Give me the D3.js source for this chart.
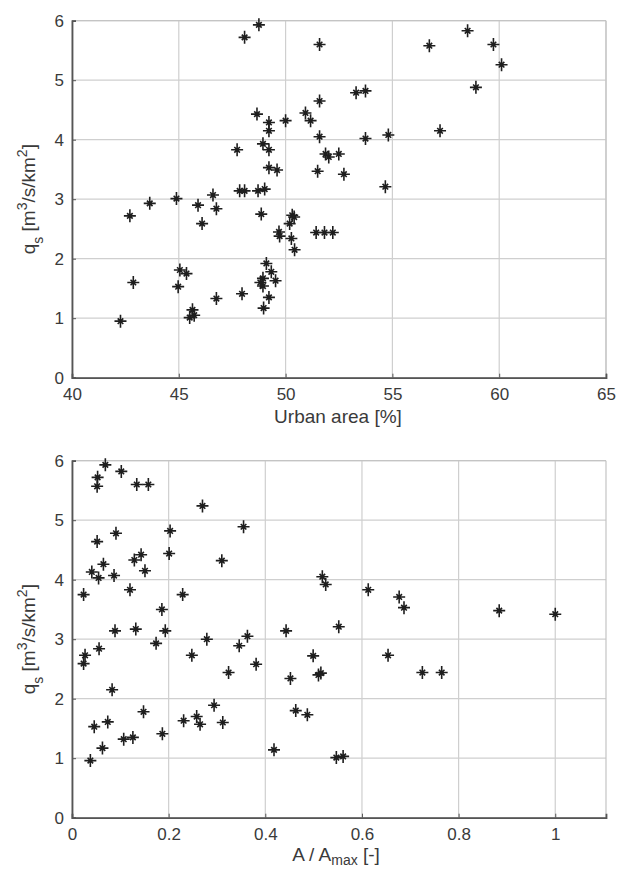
<!DOCTYPE html>
<meta charset="utf-8">
<script src="https://d3js.org/d3.v7.min.js"></script>
<style>
  body { margin: 0; background: #fff; }
  text { font-family: "Liberation Sans", Arial, sans-serif; fill: #3a3a3a; }
</style>
<div id="chart"></div>
<script>

// urban area [%] vs qs  (top panel)
var urbanX = [42.27, 42.71, 42.87, 43.64, 44.89, 44.97, 45.05, 45.36, 45.51, 45.64, 45.72, 45.9,
  46.09, 46.6, 46.76, 46.76, 47.73, 47.85, 47.96, 48.08, 48.08, 48.66, 48.71, 48.75,
  48.82, 48.86, 48.94, 48.94, 48.94, 48.97, 49.02, 49.1, 49.22, 49.22, 49.22, 49.22,
  49.22, 49.33, 49.53, 49.6, 49.69, 49.72, 50.0, 50.19, 50.27, 50.31, 50.4, 50.42,
  50.93, 51.17, 51.43, 51.5, 51.59, 51.59, 51.59, 51.82, 51.87, 52.02, 52.21, 52.49,
  52.73, 53.3, 53.74, 53.74, 54.67, 54.81, 56.73, 57.23, 58.52, 58.91, 59.73, 60.11];
var urbanQ = [0.95, 2.72, 1.60, 2.93, 3.01, 1.53, 1.81, 1.75, 1.01, 1.14, 1.05, 2.90,
  2.59, 3.07, 2.84, 1.33, 3.83, 3.14, 1.41, 5.72, 3.14, 4.43, 3.14, 5.93,
  1.60, 2.75, 3.93, 1.67, 1.54, 1.17, 3.17, 1.92, 4.29, 4.15, 3.83, 3.53,
  1.35, 1.78, 1.63, 3.49, 2.45, 2.38, 4.32, 2.59, 2.34, 2.73, 2.70, 2.15,
  4.45, 4.32, 2.44, 3.47, 5.60, 4.65, 4.05, 2.44, 3.76, 3.71, 2.44, 3.76,
  3.42, 4.79, 4.82, 4.02, 3.21, 4.08, 5.58, 4.15, 5.83, 4.88, 5.60, 5.26];

// A / Amax vs qs  (bottom panel)
var areaX = [0.069, 0.102, 0.053, 0.052, 0.134, 0.158, 0.270, 0.355, 0.203, 0.091, 0.052, 0.143,
  0.129, 0.201, 0.310, 0.065, 0.041, 0.055, 0.087, 0.151, 0.518, 0.525, 0.024, 0.120,
  0.229, 0.186, 0.613, 0.677, 0.687, 0.884, 1.0, 0.552, 0.089, 0.132, 0.193, 0.279,
  0.363, 0.443, 0.174, 0.248, 0.346, 0.381, 0.324, 0.027, 0.024, 0.056, 0.083, 0.046,
  0.074, 0.148, 0.063, 0.038, 0.107, 0.126, 0.187, 0.231, 0.258, 0.265, 0.294, 0.312,
  0.418, 0.452, 0.463, 0.487, 0.499, 0.510, 0.515, 0.547, 0.561, 0.654, 0.725, 0.765];
var areaQ = [5.93, 5.82, 5.72, 5.57, 5.60, 5.60, 5.24, 4.89, 4.82, 4.78, 4.64, 4.42,
  4.33, 4.44, 4.32, 4.26, 4.13, 4.03, 4.07, 4.15, 4.05, 3.92, 3.75, 3.83,
  3.75, 3.50, 3.83, 3.71, 3.53, 3.48, 3.42, 3.21, 3.14, 3.17, 3.14, 3.00,
  3.05, 3.14, 2.93, 2.73, 2.89, 2.58, 2.44, 2.73, 2.59, 2.84, 2.15, 1.53,
  1.61, 1.78, 1.17, 0.96, 1.32, 1.35, 1.41, 1.63, 1.70, 1.57, 1.89, 1.60,
  1.14, 2.34, 1.80, 1.73, 2.72, 2.40, 2.43, 1.01, 1.03, 2.73, 2.44, 2.44];

var urbanTicks = [40, 45, 50, 55, 60, 65];
var areaTicks = [0, 0.2, 0.4, 0.6, 0.8, 1];
var qTicks = [0, 1, 2, 3, 4, 5, 6];

var svg = d3.select("#chart").append("svg")
    .attr("width", 617).attr("height", 874);

svg.append("rect").attr("width", 617).attr("height", 874).attr("fill", "white");

// asterisk marker like matlab '*' (blurry, so the diagonals look short)
var star = "M-6,0L6,0M0,-6.5L0,6.5M-2.8,-2.8L2.8,2.8M-2.8,2.8L2.8,-2.8";

function panel(top, xs, ys, xDomain, xTicks, fmt) {
    var left = 72, right = 606, bottom = top + 357;

    var x = d3.scaleLinear().domain(xDomain).range([left, right]);
    var y = d3.scaleLinear().domain([0, 6]).range([bottom, top]);

    var g = svg.append("g");

    // grid
    g.append("g").selectAll("line").data(xTicks).join("line")
        .attr("x1", d => x(d)).attr("x2", d => x(d))
        .attr("y1", top).attr("y2", bottom)
        .attr("stroke", "#cfcfcf").attr("stroke-width", 1.2);
    g.append("g").selectAll("line").data(qTicks).join("line")
        .attr("x1", left).attr("x2", right)
        .attr("y1", d => y(d)).attr("y2", d => y(d))
        .attr("stroke", "#cfcfcf").attr("stroke-width", 1.2);

    // box top/right
    g.append("line").attr("x1", left).attr("x2", right).attr("y1", top).attr("y2", top)
        .attr("stroke", "#c4c4c4").attr("stroke-width", 1.2);
    g.append("line").attr("x1", right).attr("x2", right).attr("y1", top).attr("y2", bottom)
        .attr("stroke", "#c4c4c4").attr("stroke-width", 1.2);

    // axes
    var ax = g.append("g").attr("transform", `translate(0,${bottom})`)
        .call(d3.axisBottom(x).tickValues(xTicks).tickFormat(fmt).tickSize(-4).tickPadding(10));
    var ay = g.append("g").attr("transform", `translate(${left},0)`)
        .call(d3.axisLeft(y).tickValues(qTicks).tickFormat(d3.format("d")).tickSize(-4).tickPadding(8));
    [ax, ay].forEach(function (a) {
        a.select(".domain").attr("stroke", "#555").attr("stroke-width", 1.8);
        a.selectAll(".tick line").attr("stroke", "#555");
        a.selectAll("text").style("font-size", "17px").attr("fill", "#3a3a3a")
            .style("font-family", "'Liberation Sans', Arial, sans-serif");
    });

    // points
    g.append("g").selectAll("path").data(xs).join("path")
        .attr("d", star)
        .attr("transform", (d, i) => `translate(${x(d)},${y(ys[i])})`)
        .attr("stroke", "#1e1e1e").attr("stroke-width", 1.6).attr("fill", "none");

    // y label
    var yl = g.append("text")
        .attr("transform", `translate(35,${(top + bottom) / 2}) rotate(-90)`)
        .attr("text-anchor", "middle").style("font-size", "19px");
    yl.append("tspan").text("q");
    yl.append("tspan").text("s").attr("baseline-shift", "sub").style("font-size", "14px");
    yl.append("tspan").text(" [m");
    yl.append("tspan").text("3").attr("baseline-shift", "super").style("font-size", "14px");
    yl.append("tspan").text("/s/km");
    yl.append("tspan").text("2").attr("baseline-shift", "super").style("font-size", "14px");
    yl.append("tspan").text("]");

    return g;
}

var g1 = panel(20.7, urbanX, urbanQ, [40, 65], urbanTicks, d3.format("d"));
g1.append("text").attr("x", 338).attr("y", 423).attr("text-anchor", "middle")
    .style("font-size", "19px").text("Urban area [%]");

var g2 = panel(460.7, areaX, areaQ, [0, 1.105], areaTicks, d => d === 0 || d === 1 ? d3.format("d")(d) : d3.format(".1f")(d));
var xl = g2.append("text").attr("x", 336).attr("y", 861).attr("text-anchor", "middle")
    .style("font-size", "19px");
xl.append("tspan").text("A / A");
xl.append("tspan").text("max").attr("dy", 4).style("font-size", "14px");
xl.append("tspan").text(" [-]").attr("dy", -4);

</script>
